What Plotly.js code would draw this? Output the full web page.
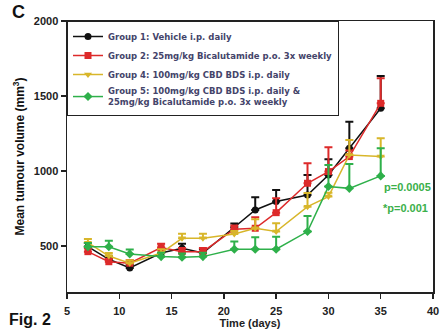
<!DOCTYPE html>
<html><head><meta charset="utf-8">
<script src="https://cdn.plot.ly/plotly-3.0.1.min.js"></script>
<style>body{margin:0;background:#fff}#c{width:441px;height:336px}</style>
</head><body><div id="c"></div>
<script>
const days = [7, 9, 11, 14, 16, 18, 21, 23, 25, 28, 30, 32, 35];
const g1 = [495, 411, 353, 453, 484, 453, 625, 740, 796, 840, 973, 1151, 1418];
const g1err = [25, 20, 20, 25, 30, 25, 25, 84, 77, 133, 105, 178, 215];
const g2 = [462, 395, 385, 489, 462, 462, 612, 618, 722, 918, 996, 1096, 1451];
const g2err = [25, 20, 20, 25, 25, 25, 25, 73, 96, 133, 162, 40, 167];
const g4 = [522, 433, 385, 453, 551, 551, 580, 618, 596, 762, 829, 1107, 1096];
const g4err = [25, 20, 20, 25, 30, 30, 20, 60, 55, 91, 25, 100, 122];
const g5 = [495, 495, 447, 429, 425, 429, 478, 478, 478, 596, 896, 884, 967];
const g5err = [25, 40, 30, 25, 25, 25, 51, 80, 84, 104, 144, 163, 184];
const names = ["Group 1: Vehicle i.p. daily",
  "Group 2: 25mg/kg Bicalutamide p.o. 3x weekly",
  "Group 4: 100mg/kg CBD BDS i.p. daily",
  "Group 5: 100mg/kg CBD BDS i.p. daily &<br>25mg/kg Bicalutamide p.o. 3x weekly"];
const colors = ["#111111", "#dd2a2a", "#d8b62a", "#2eb04a"];
const symbols = ["circle", "square", "triangle-down", "diamond"];
const series = [[g1, g1err], [g2, g2err], [g4, g4err], [g5, g5err]];

const traces = series.map((s, i) => ({
  x: days, y: s[0], name: names[i], type: 'scatter', mode: 'lines+markers',
  line: {color: colors[i], width: 1.5},
  marker: {color: colors[i], symbol: symbols[i], size: 7},
  error_y: {type: 'data', array: s[1], arrayminus: s[1].map(() => 0), symmetric: false,
            color: colors[i], thickness: 2, width: 4}
}));

const layout = {
  width: 441, height: 336,
  margin: {l: 67, r: 8, t: 21, b: 44},
  paper_bgcolor: '#fff', plot_bgcolor: '#fff',
  font: {family: 'Liberation Sans, Arial, sans-serif', color: '#111'},
  showlegend: true,
  legend: {x: 0, y: 1, xanchor: 'left', yanchor: 'top', bgcolor: '#fff',
           bordercolor: '#222', borderwidth: 1,
           font: {family: 'DejaVu Sans', size: 8.5, weight: 'bold', color: '#44446a'},
           tracegroupgap: 0, itemwidth: 30},
  xaxis: {range: [5, 40], tickvals: [5, 10, 15, 20, 25, 30, 35, 40],
          ticks: 'outside', ticklen: 5, tickwidth: 1.5, tickcolor: '#222',
          ticklabelstandoff: 3,
          showline: true, linecolor: '#222', linewidth: 1.5, mirror: true,
          showgrid: false, zeroline: false,
          tickfont: {size: 11, family: 'Liberation Sans', weight: 'bold', color: '#222'},
          title: {text: '<b>Time (days)</b>', font: {size: 11, color: '#222'}, standoff: 3}},
  yaxis: {range: [193, 2000], tickvals: [500, 1000, 1500, 2000],
          ticks: 'outside', ticklen: 5, tickwidth: 1.5, tickcolor: '#222',
          showline: true, linecolor: '#222', linewidth: 1.5, mirror: true,
          showgrid: false, zeroline: false,
          tickfont: {size: 11, family: 'Liberation Sans', weight: 'bold', color: '#222'},
          title: {text: '<b>Mean tumour volume (mm<sup>3</sup>)</b>', font: {size: 12, color: '#111'}, standoff: 6}},
  annotations: [
    {xref: 'paper', yref: 'paper', x: -0.155, y: 1.035, xanchor: 'left', yanchor: 'middle',
     text: '<b>C</b>', showarrow: false, font: {size: 18, color: '#111'}},
    {xref: 'paper', yref: 'paper', x: -0.164, y: -0.103, xanchor: 'left', yanchor: 'middle',
     text: '<b>Fig. 2</b>', showarrow: false, font: {size: 16, color: '#111'}},
    {xref: 'x', yref: 'y', x: 35.1, y: 893, xanchor: 'left', yanchor: 'middle',
     text: '<b>p=0.0005</b>', showarrow: false, font: {size: 11, color: '#3bb04a'}},
    {xref: 'x', yref: 'y', x: 35.0, y: 753, xanchor: 'left', yanchor: 'middle',
     text: '<b>*p=0.001</b>', showarrow: false, font: {size: 11, color: '#3bb04a'}}
  ]
};
Plotly.newPlot('c', traces, layout, {staticPlot: true, displayModeBar: false});
</script></body></html>
